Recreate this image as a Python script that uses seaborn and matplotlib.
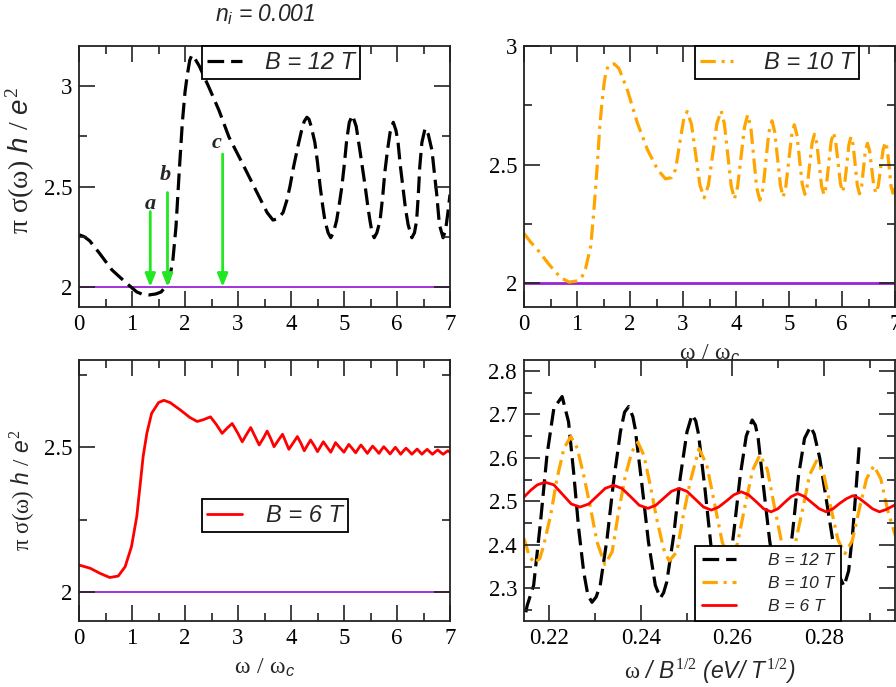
import matplotlib
matplotlib.use("Agg")
import matplotlib.pyplot as plt
import matplotlib.ticker as mticker
import seaborn as sns

# ---------------- data ----------------
# top-left panel: B = 12 T, x = omega/omega_c
tl_x = [0.00, 0.10, 0.20, 0.38, 0.62, 0.89, 1.09, 1.20, 1.32, 1.45, 1.55, 1.66, 1.72, 1.77,
        1.83, 1.89, 1.95, 2.00, 2.04, 2.09, 2.13, 2.18, 2.27, 2.45, 2.64, 2.83, 3.08, 3.34,
        3.55, 3.66, 3.75, 3.85, 3.92, 3.98, 4.05, 4.13, 4.20, 4.25, 4.30, 4.34, 4.38, 4.45,
        4.50, 4.55, 4.60, 4.64, 4.70, 4.75, 4.80, 4.86, 4.91, 4.96, 5.01, 5.05, 5.10, 5.16,
        5.23, 5.30, 5.35, 5.40, 5.45, 5.49, 5.53, 5.57, 5.62, 5.68, 5.73, 5.77, 5.82, 5.87,
        5.93, 5.98, 6.02, 6.06, 6.11, 6.16, 6.21, 6.28, 6.33, 6.37, 6.40, 6.43, 6.47, 6.53,
        6.59, 6.66, 6.70, 6.75, 6.80, 6.87, 6.92, 6.96, 7.00]
tl_y = [2.26, 2.25, 2.23, 2.17, 2.085, 2.02, 1.975, 1.963, 1.96, 1.965, 1.975, 2.01, 2.06, 2.13,
        2.30, 2.57, 2.82, 2.97, 3.05, 3.13, 3.155, 3.14, 3.10, 2.995, 2.88, 2.746, 2.617, 2.48,
        2.37, 2.333, 2.34, 2.37, 2.43, 2.50, 2.60, 2.70, 2.78, 2.825, 2.845, 2.835, 2.80, 2.72,
        2.62, 2.50, 2.40, 2.33, 2.27, 2.245, 2.27, 2.33, 2.41, 2.50, 2.62, 2.73, 2.82, 2.855,
        2.80, 2.68, 2.59, 2.50, 2.40, 2.33, 2.27, 2.245, 2.27, 2.33, 2.45, 2.57, 2.68, 2.77,
        2.82, 2.78, 2.72, 2.61, 2.50, 2.39, 2.31, 2.245, 2.27, 2.33, 2.45, 2.60, 2.72, 2.79,
        2.76, 2.68, 2.58, 2.46, 2.31, 2.245, 2.29, 2.37, 2.46]

# top-right panel: B = 10 T
tr_x = [0.00, 0.12, 0.25, 0.47, 0.69, 0.85, 1.01, 1.10, 1.16, 1.26, 1.32, 1.38, 1.43, 1.47,
        1.51, 1.55, 1.60, 1.70, 1.79, 1.95, 2.14, 2.33, 2.52, 2.67, 2.78, 2.86, 2.96, 3.02,
        3.08, 3.16, 3.24, 3.32, 3.40, 3.48, 3.56, 3.64, 3.72, 3.78, 3.845, 3.91, 3.97, 4.03,
        4.095, 4.16, 4.22, 4.28, 4.335, 4.39, 4.45, 4.51, 4.565, 4.62, 4.68, 4.73, 4.785, 4.84,
        4.89, 4.94, 4.995, 5.05, 5.10, 5.15, 5.20, 5.25, 5.30, 5.345, 5.39, 5.435, 5.48, 5.525,
        5.57, 5.615, 5.66, 5.705, 5.75, 5.795, 5.84, 5.88, 5.925, 5.97, 6.01, 6.05, 6.09, 6.13,
        6.17, 6.21, 6.25, 6.29, 6.33, 6.37, 6.405, 6.44, 6.48, 6.52, 6.56, 6.60, 6.64, 6.685,
        6.73, 6.775, 6.82, 6.855, 6.89, 6.925, 6.96, 7.00]
tr_y = [2.21, 2.175, 2.143, 2.08, 2.024, 2.005, 2.01, 2.03, 2.06, 2.157, 2.31, 2.49, 2.66, 2.76,
        2.84, 2.895, 2.92, 2.925, 2.906, 2.815, 2.675, 2.563, 2.479, 2.44, 2.445, 2.48, 2.62, 2.70,
        2.724, 2.67, 2.542, 2.413, 2.36, 2.414, 2.543, 2.673, 2.727, 2.673, 2.541, 2.41, 2.355, 2.407,
        2.532, 2.658, 2.71, 2.657, 2.53, 2.403, 2.35, 2.399, 2.518, 2.636, 2.685, 2.638, 2.524, 2.41,
        2.363, 2.408, 2.516, 2.623, 2.668, 2.625, 2.52, 2.418, 2.375, 2.412, 2.50, 2.59, 2.628, 2.59,
        2.50, 2.41, 2.373, 2.411, 2.504, 2.597, 2.635, 2.598, 2.51, 2.421, 2.385, 2.419, 2.50, 2.584,
        2.618, 2.583, 2.497, 2.412, 2.377, 2.408, 2.483, 2.558, 2.59, 2.559, 2.485, 2.41, 2.38, 2.411,
        2.487, 2.563, 2.595, 2.563, 2.49, 2.41, 2.38, 2.40]

# bottom-left panel: B = 6 T
bl_x = [0.00, 0.21, 0.40, 0.58, 0.74, 0.87, 0.99, 1.09, 1.15, 1.21, 1.28, 1.37, 1.50, 1.60,
        1.72, 1.91, 2.09, 2.23, 2.36, 2.48, 2.59, 2.70, 2.80, 2.89, 2.99, 3.08, 3.16, 3.24,
        3.32, 3.40, 3.48, 3.55, 3.62, 3.68, 3.76, 3.84, 3.90, 3.96, 4.04, 4.12, 4.19, 4.25,
        4.31, 4.37, 4.44, 4.50, 4.555, 4.61, 4.68, 4.75, 4.795, 4.84, 4.92, 5.00, 5.045, 5.09,
        5.155, 5.22, 5.27, 5.32, 5.38, 5.44, 5.49, 5.54, 5.60, 5.66, 5.705, 5.75, 5.81, 5.87,
        5.92, 5.97, 6.02, 6.07, 6.12, 6.17, 6.225, 6.28, 6.33, 6.38, 6.425, 6.47, 6.52, 6.57,
        6.62, 6.67, 6.72, 6.77, 6.82, 6.87, 6.915, 6.96, 7.00]
bl_y = [2.093, 2.082, 2.064, 2.050, 2.055, 2.087, 2.156, 2.260, 2.363, 2.467, 2.547, 2.616, 2.653, 2.661,
        2.653, 2.628, 2.602, 2.588, 2.595, 2.604, 2.578, 2.547, 2.566, 2.581, 2.550, 2.518, 2.543, 2.567,
        2.537, 2.507, 2.531, 2.555, 2.528, 2.501, 2.523, 2.544, 2.518, 2.492, 2.514, 2.536, 2.512, 2.487,
        2.506, 2.524, 2.504, 2.484, 2.501, 2.518, 2.500, 2.482, 2.498, 2.515, 2.498, 2.482, 2.496, 2.509,
        2.495, 2.480, 2.494, 2.507, 2.493, 2.478, 2.491, 2.503, 2.491, 2.478, 2.490, 2.501, 2.489, 2.476,
        2.488, 2.499, 2.487, 2.475, 2.486, 2.496, 2.486, 2.475, 2.484, 2.493, 2.484, 2.475, 2.484, 2.492,
        2.483, 2.475, 2.483, 2.490, 2.482, 2.475, 2.481, 2.487, 2.482]

# bottom-right panel: x = omega / B^(1/2)
br12_x = [0.2150, 0.2153, 0.2167, 0.2182, 0.2196, 0.2211, 0.2229, 0.2243, 0.2254, 0.2265, 0.2276,
          0.2285, 0.2294, 0.2303, 0.2312, 0.2327, 0.2341, 0.2356, 0.2365, 0.2374, 0.2383, 0.2388,
          0.2403, 0.2417, 0.2432, 0.2443, 0.2450, 0.2457, 0.2472, 0.2486, 0.2501, 0.2512, 0.2520,
          0.2526, 0.2540, 0.2553, 0.2566, 0.2578, 0.2590, 0.2603, 0.2617, 0.2630, 0.2643, 0.2650,
          0.2656, 0.2668, 0.2681, 0.2694, 0.2706, 0.2718, 0.2731, 0.2744, 0.2757, 0.2770, 0.2778,
          0.2790, 0.2805, 0.2820, 0.2832, 0.2843, 0.2853, 0.2862, 0.2870, 0.2877]
br12_y = [2.245, 2.261, 2.307, 2.453, 2.606, 2.714, 2.741, 2.683, 2.568, 2.438, 2.338,
          2.285, 2.268, 2.280, 2.307, 2.415, 2.545, 2.660, 2.705, 2.718, 2.695, 2.668,
          2.537, 2.407, 2.307, 2.278, 2.290, 2.315, 2.422, 2.553, 2.660, 2.699, 2.685,
          2.655, 2.530, 2.400, 2.310, 2.285, 2.320, 2.430, 2.560, 2.650, 2.687, 2.675,
          2.645, 2.530, 2.410, 2.320, 2.290, 2.320, 2.430, 2.560, 2.645, 2.672, 2.655,
          2.600, 2.500, 2.400, 2.330, 2.305, 2.340, 2.430, 2.540, 2.640]

br10_x = [0.2146, 0.2157, 0.2168, 0.2180, 0.2188, 0.2204, 0.2218, 0.2233, 0.2248, 0.2262, 0.2276,
          0.2291, 0.2305, 0.2322, 0.2338, 0.2352, 0.2367, 0.2381, 0.2394, 0.2407, 0.2421, 0.2435,
          0.2450, 0.2462, 0.2479, 0.2493, 0.2508, 0.2527, 0.2544, 0.2561, 0.2578, 0.2595, 0.2611,
          0.2627, 0.2644, 0.2660, 0.2676, 0.2691, 0.2707, 0.2722, 0.2737, 0.2753, 0.2768, 0.2783,
          0.2799, 0.2814, 0.2830, 0.2845, 0.2861, 0.2876, 0.2892, 0.2908, 0.2923, 0.2938, 0.2958]
br10_y = [2.415, 2.376, 2.358, 2.368, 2.395, 2.468, 2.553, 2.622, 2.649, 2.622, 2.560,
          2.484, 2.407, 2.355, 2.384, 2.476, 2.560, 2.614, 2.636, 2.606, 2.537, 2.460,
          2.391, 2.363, 2.384, 2.468, 2.545, 2.621, 2.584, 2.495, 2.405, 2.368, 2.403,
          2.488, 2.572, 2.607, 2.573, 2.490, 2.406, 2.372, 2.404, 2.483, 2.561, 2.593,
          2.562, 2.487, 2.411, 2.380, 2.410, 2.481, 2.552, 2.582, 2.552, 2.480, 2.410]

br6_x = [0.2146, 0.2160, 0.2175, 0.2192, 0.2211, 0.2230, 0.2249, 0.2268, 0.2287, 0.2305, 0.2323,
         0.2341, 0.2359, 0.2378, 0.2397, 0.2416, 0.2433, 0.2450, 0.2467, 0.2484, 0.2501, 0.2519,
         0.2537, 0.2554, 0.2570, 0.2587, 0.2603, 0.2619, 0.2635, 0.2652, 0.2668, 0.2684, 0.2699,
         0.2713, 0.2728, 0.2742, 0.2757, 0.2773, 0.2789, 0.2804, 0.2819, 0.2833, 0.2848, 0.2862,
         0.2876, 0.2891, 0.2905, 0.2920, 0.2934, 0.2956]
br6_y = [2.510, 2.525, 2.538, 2.544, 2.538, 2.516, 2.494, 2.487, 2.494, 2.512, 2.530,
         2.537, 2.530, 2.511, 2.491, 2.484, 2.491, 2.507, 2.523, 2.530, 2.523, 2.505,
         2.487, 2.480, 2.487, 2.501, 2.515, 2.522, 2.515, 2.499, 2.483, 2.476, 2.483,
         2.497, 2.511, 2.518, 2.511, 2.497, 2.483, 2.476, 2.483, 2.495, 2.506, 2.513,
         2.507, 2.495, 2.483, 2.476, 2.481, 2.493]

# annotation arrows in top-left panel
arrow_x = [1.345, 1.67, 2.71]
arrow_top = [2.375, 2.47, 2.662]
arrow_names = ["a", "b", "c"]
name_x = [1.35, 1.63, 2.59]
name_y = [2.415, 2.555, 2.715]

labels_lr = ["B = 12 T", "B = 10 T", "B = 6 T"]

# ---------------- style ----------------
sns.set_style("ticks")
plt.rcParams["font.family"] = ["Liberation Serif", "DejaVu Serif"]
plt.rcParams["mathtext.fontset"] = "custom"
plt.rcParams["mathtext.rm"] = "Liberation Serif"
plt.rcParams["mathtext.it"] = "Liberation Sans:italic"
plt.rcParams["mathtext.bf"] = "Liberation Serif:bold"
plt.rcParams["lines.scale_dashes"] = False

BLACK = "black"
ORANGE = "#FFA500"
RED = "#FF0000"
VIOLET = "#9A22D6"
GREEN = "#22E822"
DASH = (0, (12, 5))
DASHDOT = (0, (11, 4.2, 2.2, 4.2))

fig = plt.figure(figsize=(8.96, 6.87), dpi=100)
W, H = 896.0, 687.0


def make_ax(l, t, r, b):
    return fig.add_axes([l / W, 1 - b / H, (r - l) / W, (b - t) / H])


ax_tl = make_ax(79, 46, 450, 307)
ax_tr = make_ax(524, 46, 895, 307)
ax_bl = make_ax(79, 360, 450, 621)
ax_br = make_ax(524, 360, 895, 621)

leg_font = dict(family="Liberation Sans", style="italic", size=17)


def style_ax(ax, xmaj, xmin, ymaj, ymin, fmt):
    ax.set_axisbelow(False)
    ax.xaxis.set_major_locator(mticker.MultipleLocator(xmaj))
    ax.xaxis.set_minor_locator(mticker.MultipleLocator(xmin))
    ax.yaxis.set_major_locator(mticker.MultipleLocator(ymaj))
    ax.yaxis.set_minor_locator(mticker.MultipleLocator(ymin))
    ax.xaxis.set_major_formatter(mticker.FuncFormatter(fmt))
    ax.yaxis.set_major_formatter(mticker.FuncFormatter(lambda v, p: f"{v:g}"))
    ax.tick_params(which="both", direction="in", top=True, right=True, width=1.2,
                   colors="#222222", labelcolor="black")
    ax.tick_params(which="major", length=11.5, pad=5)
    ax.tick_params(which="minor", length=5.8)
    ax.tick_params(labelsize=16.5)
    for s in ax.spines.values():
        s.set_linewidth(1.3)
        s.set_color("#222222")
    ax.set_xlabel("")
    ax.set_ylabel("")


def frame_legend(ax, **kw):
    leg = ax.legend(frameon=True, fancybox=False, framealpha=1, edgecolor="black",
                    borderaxespad=0, **kw)
    leg.get_frame().set_linewidth(1.3)
    return leg


int_fmt = lambda v, p: f"{v:g}"
ylab = r"$\mathrm{\pi\ \sigma(\omega)}\ h\ /\ e^2$"
xlab_c = r"$\mathrm{\omega\ /\ \omega}_c$"

# ---- top left ----
sns.lineplot(x=tl_x, y=tl_y, ax=ax_tl, color=BLACK, lw=2.3, sort=False, label=labels_lr[0])
ax_tl.lines[-1].set_linestyle(DASH)
ax_tl.axhline(2.0, color=VIOLET, lw=1.3, zorder=1.8)
for xa, yt, nm, nx, ny in zip(arrow_x, arrow_top, arrow_names, name_x, name_y):
    ax_tl.annotate("", xy=(xa, 2.0), xytext=(xa, yt),
                   arrowprops=dict(arrowstyle="-|>,head_length=0.55,head_width=0.22",
                                   color=GREEN, lw=2.0, mutation_scale=14,
                                   shrinkA=0, shrinkB=0), zorder=3)
    ax_tl.text(nx, ny, nm, ha="center", va="center", fontfamily="Liberation Serif",
               fontstyle="italic", fontweight="bold", fontsize=16)
ax_tl.set_xlim(0, 7)
ax_tl.set_ylim(1.9, 3.2)
style_ax(ax_tl, 1, 0.5, 0.5, 0.25, int_fmt)
ax_tl.set_ylabel(ylab, fontsize=20)
ax_tl.yaxis.set_label_coords(-0.113, 0.563)
frame_legend(ax_tl, loc="upper left", bbox_to_anchor=(0.332, 1.0), prop=leg_font,
             handlelength=1.45, handletextpad=1.0, borderpad=0.22)
fig.text(265 / W, 1 - 21 / H, r"$n_i$ = 0.001", ha="center", va="baseline",
         fontfamily="Liberation Sans", fontstyle="italic", fontsize=16.5)

# ---- top right ----
sns.lineplot(x=tr_x, y=tr_y, ax=ax_tr, color=ORANGE, lw=2.3, sort=False, label=labels_lr[1])
ax_tr.lines[-1].set_linestyle(DASHDOT)
ax_tr.axhline(2.0, color=VIOLET, lw=2.0, zorder=1.8)
ax_tr.set_xlim(0, 7)
ax_tr.set_ylim(1.9, 3.0)
style_ax(ax_tr, 1, 0.5, 0.5, 0.25, int_fmt)
ax_tr.set_xlabel(xlab_c, fontsize=17)
ax_tr.xaxis.set_label_coords(0.5, -0.135)
frame_legend(ax_tr, loc="upper left", bbox_to_anchor=(0.46, 1.0), prop=leg_font,
             handlelength=1.4, handletextpad=1.3, borderpad=0.22)

# ---- bottom left ----
sns.lineplot(x=bl_x, y=bl_y, ax=ax_bl, color=RED, lw=2.0, sort=False, label=labels_lr[2])
ax_bl.axhline(2.0, color=VIOLET, lw=1.3, zorder=1.8)
ax_bl.set_xlim(0, 7)
ax_bl.set_ylim(1.9, 2.8)
style_ax(ax_bl, 1, 0.5, 0.5, 0.25, int_fmt)
ax_bl.set_ylabel(ylab, fontsize=16.5)
ax_bl.yaxis.set_label_coords(-0.113, 0.5)
ax_bl.set_xlabel(xlab_c, fontsize=17)
ax_bl.xaxis.set_label_coords(0.5, -0.135)
frame_legend(ax_bl, loc="lower left", bbox_to_anchor=(0.332, 0.341), prop=leg_font,
             handlelength=1.45, handletextpad=1.05, borderpad=0.22)

# ---- bottom right ----
sns.lineplot(x=br12_x, y=br12_y, ax=ax_br, color=BLACK, lw=2.3, sort=False, label=labels_lr[0])
ax_br.lines[-1].set_linestyle(DASH)
sns.lineplot(x=br10_x, y=br10_y, ax=ax_br, color=ORANGE, lw=2.3, sort=False, label=labels_lr[1])
ax_br.lines[-1].set_linestyle(DASHDOT)
sns.lineplot(x=br6_x, y=br6_y, ax=ax_br, color=RED, lw=2.0, sort=False, label=labels_lr[2])
ax_br.set_xlim(0.2146, 0.2954)
ax_br.set_ylim(2.225, 2.825)
style_ax(ax_br, 0.02, 0.01, 0.1, 0.05, lambda v, p: f"{v:.2f}")
ax_br.yaxis.set_major_formatter(mticker.FuncFormatter(lambda v, p: f"{v:.1f}"))
ax_br.set_xlabel(r"$\mathrm{\omega}$ / $B^{\mathit{1/2}}$ ($eV$/ $T^{\mathit{1/2}}$)",
                 fontsize=16.5, fontfamily="Liberation Sans", fontstyle="italic")
ax_br.xaxis.set_label_coords(0.5, -0.135)
frame_legend(ax_br, loc="lower left", bbox_to_anchor=(0.46, 0.0),
             prop=dict(family="Liberation Sans", style="italic", size=12.5),
             handlelength=2.0, handletextpad=1.8, borderpad=0.4, labelspacing=0.45)

fig.savefig("out.png", dpi=100)
